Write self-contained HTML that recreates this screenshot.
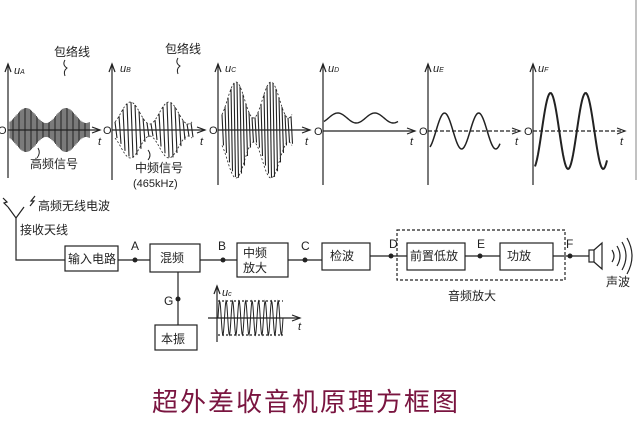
<!DOCTYPE html>
<html><head><meta charset="utf-8"><style>
body{margin:0;background:#fff;width:640px;height:420px;overflow:hidden}
svg text{font-family:"Liberation Sans","Noto Sans CJK SC",sans-serif;fill:#222}
</style></head><body>
<svg id="s" width="640" height="420" xmlns="http://www.w3.org/2000/svg">
<g stroke="#222" fill="none" stroke-width="1.2">
<line x1="8" y1="178" x2="8" y2="64"/><path d="M5,72 L8,64 L11,72"/>
<line x1="8" y1="130" x2="100" y2="130"/><path d="M92,127 L100,130 L92,133"/>
<line x1="112" y1="180" x2="112" y2="64"/><path d="M109,72 L112,64 L115,72"/>
<line x1="112" y1="130" x2="205" y2="130"/><path d="M197,127 L205,130 L197,133"/>
<line x1="218" y1="185" x2="218" y2="64"/><path d="M215,72 L218,64 L221,72"/>
<line x1="218" y1="130" x2="310" y2="130"/><path d="M302,127 L310,130 L302,133"/>
<line x1="323" y1="185" x2="323" y2="64"/><path d="M320,72 L323,64 L326,72"/>
<line x1="323" y1="131" x2="415" y2="131"/><path d="M407,128 L415,131 L407,134"/>
<line x1="428" y1="185" x2="428" y2="64"/><path d="M425,72 L428,64 L431,72"/>
<line x1="428" y1="131" x2="520" y2="131" stroke-dasharray="4,2"/><path d="M512,128 L520,131 L512,134"/>
<line x1="533" y1="185" x2="533" y2="64"/><path d="M530,72 L533,64 L536,72"/>
<line x1="533" y1="131" x2="625" y2="131" stroke-dasharray="4,2"/><path d="M617,128 L625,131 L617,134"/>
<line x1="636" y1="0" x2="636" y2="180" stroke="#999"/>
<path d="M65,60 q-3,5 2,8 q-4,3 -2,8" stroke-width="1"/>
<path d="M178,58 q-3,5 2,8 q-4,3 -2,8" stroke-width="1"/>
<path d="M38,148 q3,5 -1,10" stroke-width="1"/>
<path d="M148,150 q4,5 0,10" stroke-width="1"/>
<g id="waves"></g>
<path d="M16,218 L16,260 L65,260"/>
<path d="M8,207 L16,218 L24,207"/>
<path d="M3,198 l4,4 -3,1 4,4"/><path d="M35,196 l-4,5 3,0 -4,5"/>
<rect x="65" y="246" width="53" height="25"/>
<line x1="118" y1="260" x2="150" y2="260"/>
<rect x="150" y="244" width="50" height="28"/>
<line x1="200" y1="260" x2="237" y2="260"/>
<rect x="237" y="243" width="51" height="34"/>
<line x1="288" y1="260" x2="322" y2="260"/>
<rect x="322" y="243" width="48" height="27"/>
<line x1="370" y1="256" x2="407" y2="256"/>
<rect x="397" y="230" width="168" height="50" stroke-dasharray="3,2"/>
<rect x="407" y="243" width="58" height="27"/>
<line x1="465" y1="256" x2="500" y2="256"/>
<rect x="500" y="243" width="53" height="27"/>
<line x1="553" y1="256" x2="589" y2="256"/>
<rect x="589" y="250" width="5" height="12"/><path d="M594,250 L602,243 L602,269 L594,262"/>
<path d="M612,250 q4,6 0,12 M617,246 q6,10 0,20 M622,242 q8,14 0,28 M627,238 q10,18 0,36"/>
<line x1="178" y1="272" x2="178" y2="325"/>
<rect x="155" y="325" width="42" height="25"/>
<line x1="217" y1="342" x2="217" y2="286"/><path d="M214,294 L217,286 L220,294"/>
<line x1="208" y1="318" x2="300" y2="318"/><path d="M292,315 L300,318 L292,321"/>
<path d="M218,301 L283,301 M218,335 L283,335" stroke-dasharray="2,2"/>
</g>
<g fill="#222">
<circle cx="135" cy="260" r="2.5"/><circle cx="223" cy="260" r="2.5"/><circle cx="305" cy="260" r="2.5"/>
<circle cx="391" cy="256" r="2.5"/><circle cx="480" cy="256" r="2.5"/><circle cx="570" cy="256" r="2.5"/>
<circle cx="178" cy="299" r="2.5"/>
</g>
<g font-size="11" font-style="italic">
<text x="14" y="74">u<tspan font-size="7">A</tspan></text><text x="120" y="72">u<tspan font-size="7">B</tspan></text>
<text x="225" y="72">u<tspan font-size="7">C</tspan></text><text x="328" y="72">u<tspan font-size="7">D</tspan></text>
<text x="433" y="72">u<tspan font-size="7">E</tspan></text><text x="538" y="72">u<tspan font-size="7">F</tspan></text>
<text x="98" y="145">t</text><text x="200" y="145">t</text><text x="305" y="145">t</text>
<text x="410" y="145">t</text><text x="515" y="145">t</text><text x="620" y="145">t</text>
<text x="222" y="296">u<tspan font-size="7">c</tspan></text><text x="298" y="330">t</text>
</g>
<g font-size="11">
<text x="-2" y="134">O</text><text x="103" y="134">O</text><text x="209" y="134">O</text>
<text x="314" y="135">O</text><text x="419" y="135">O</text><text x="524" y="135">O</text>
</g>
<g font-size="12">
<text x="54" y="56">包络线</text><text x="165" y="53">包络线</text>
<text x="30" y="168">高频信号</text><text x="135" y="172">中频信号</text>
<text x="133" y="187" font-size="11">(465kHz)</text>
<text x="38" y="210">高频无线电波</text><text x="20" y="234">接收天线</text>
<text x="68" y="263">输入电路</text><text x="160" y="262">混频</text>
<text x="243" y="257">中频</text><text x="243" y="272">放大</text>
<text x="330" y="260">检波</text><text x="410" y="260">前置低放</text><text x="507" y="260">功放</text>
<text x="161" y="343">本振</text><text x="448" y="300">音频放大</text><text x="606" y="286">声波</text>
<text x="131" y="250">A</text><text x="218" y="250">B</text><text x="301" y="250">C</text>
<text x="389" y="248">D</text><text x="477" y="248">E</text><text x="566" y="248">F</text><text x="164" y="305">G</text>
</g>
<text x="152" y="411" font-size="26" letter-spacing="2" style="fill:#7a1540">超外差收音机原理方框图</text>
</svg>
<script>
var g=document.getElementById('waves'),NS='http://www.w3.org/2000/svg';
function P(d,w,dash){var p=document.createElementNS(NS,'path');p.setAttribute('d',d);p.setAttribute('stroke-width',w||1.2);if(dash)p.setAttribute('stroke-dasharray',dash);g.appendChild(p);}
function E(t,amin,amax){return amin+(amax-amin)*0.5*(1-Math.cos(2*Math.PI*(2*t+0.1)));}
function envs(x0,x1,amin,amax){var e1='',e2='';for(var x=x0;x<=x1;x++){var t=(x-x0)/(x1-x0),a=E(t,amin,amax);e1+=(x==x0?'M':'L')+x+','+(130-a);e2+=(x==x0?'M':'L')+x+','+(130+a);}P(e1,0.8,'2,2');P(e2,0.8,'2,2');}
var d='';for(var x=10;x<=90;x+=1.2){var t=(x-10)/80,a=E(t,7,22);d+='M'+x+','+(130-a)+'L'+x+','+(130+a);}P(d,0.8);
d='';for(var x=115;x<=192;x+=4){var t=(x-115)/77,a=E(t,6,28);d+='M'+x+','+(130-a)+'L'+(x+2)+','+(130+a);}P(d,1.1);envs(115,192,6,28);
d='';for(var x=222;x<=292;x+=3){var t=(x-222)/70,a=E(t,12,48);d+='M'+x+','+(130-a)+'L'+(x+1.5)+','+(130+a);}P(d,1.1);envs(222,292,12,48);
d='';for(var x=324;x<=398;x++){var t=(x-324)/74;d+=(x==324?'M':'L')+x+','+(118-5*Math.sin(2*Math.PI*(2*t-0.25)+0.8));}P(d,1.4);
d='';for(var x=430;x<=500;x++){var t=(x-430)/70;d+=(x==430?'M':'L')+x+','+(131-18*Math.sin(2*Math.PI*(2.05*t)-1.1));}P(d,1.5);
d='';for(var x=535;x<=607;x++){var t=(x-535)/72;d+=(x==535?'M':'L')+x+','+(131-38*Math.sin(2*Math.PI*(2.05*t)-1.2));}P(d,2);
d='';for(var x=218;x<=283;x+=0.5){d+=(x==218?'M':'L')+x+','+(318-17*Math.sin(2*Math.PI*(x-218)/6.5));}P(d,1);
</script>
</body></html>
